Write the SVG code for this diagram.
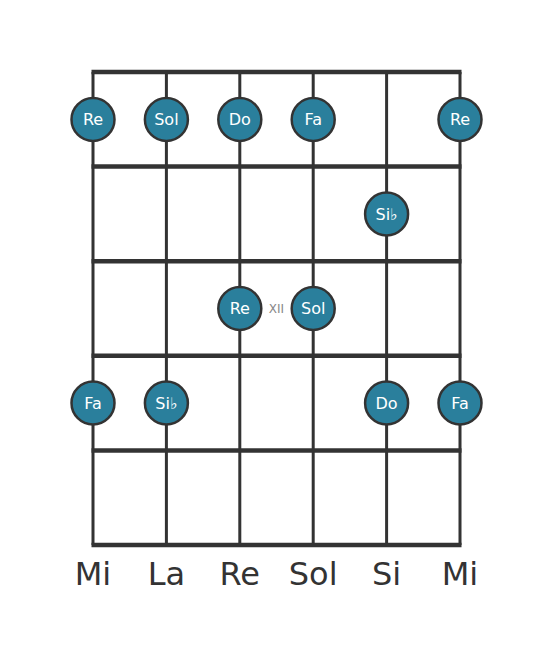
<svg xmlns="http://www.w3.org/2000/svg" width="553" height="656" viewBox="0 0 553 656">
<style>
.fret{stroke:#333;stroke-width:4.5}
.str{stroke:#333;stroke-width:3}
.dot circle{fill:#2a7f9c;stroke:#333;stroke-width:2.5}
.dot text{fill:#fff;font-family:"DejaVu Sans",sans-serif;font-size:16px;text-anchor:middle;dominant-baseline:central}
.lbl{fill:#333;font-family:"DejaVu Sans",sans-serif;font-size:32px;text-anchor:middle}
.pos{fill:#888;font-family:"DejaVu Sans",sans-serif;font-size:12px;text-anchor:middle;dominant-baseline:central}
</style>
<rect width="553" height="656" fill="#fff"/>
<g id="connectors">
<line class="str" x1="93" y1="72" x2="93" y2="545"/>
<line class="str" x1="166.4" y1="72" x2="166.4" y2="545"/>
<line class="str" x1="239.8" y1="72" x2="239.8" y2="545"/>
<line class="str" x1="313.2" y1="72" x2="313.2" y2="545"/>
<line class="str" x1="386.6" y1="72" x2="386.6" y2="545"/>
<line class="str" x1="460" y1="72" x2="460" y2="545"/>
<line class="fret" x1="91.5" y1="72" x2="461.5" y2="72"/>
<line class="fret" x1="91.5" y1="166.6" x2="461.5" y2="166.6"/>
<line class="fret" x1="91.5" y1="261.2" x2="461.5" y2="261.2"/>
<line class="fret" x1="91.5" y1="355.8" x2="461.5" y2="355.8"/>
<line class="fret" x1="91.5" y1="450.4" x2="461.5" y2="450.4"/>
<line class="fret" x1="91.5" y1="545" x2="461.5" y2="545"/>
</g>
<g id="n1" class="dot"><circle cx="93" cy="119.5" r="21.5"/><text x="93" y="119.5">Re</text></g>
<g id="n2" class="dot"><circle cx="166.4" cy="119.5" r="21.5"/><text x="166.4" y="119.5">Sol</text></g>
<g id="n3" class="dot"><circle cx="239.8" cy="119.5" r="21.5"/><text x="239.8" y="119.5">Do</text></g>
<g id="n4" class="dot"><circle cx="313.2" cy="119.5" r="21.5"/><text x="313.2" y="119.5">Fa</text></g>
<g id="n5" class="dot"><circle cx="460" cy="119.5" r="21.5"/><text x="460" y="119.5">Re</text></g>
<g id="n6" class="dot"><circle cx="386.6" cy="214" r="21.5"/><text x="386.6" y="214">Si♭</text></g>
<g id="n7" class="dot"><circle cx="239.8" cy="308.5" r="21.5"/><text x="239.8" y="308.5">Re</text></g>
<g id="n8" class="dot"><circle cx="313.2" cy="308.5" r="21.5"/><text x="313.2" y="308.5">Sol</text></g>
<g id="n9" class="dot"><circle cx="93" cy="403" r="21.5"/><text x="93" y="403">Fa</text></g>
<g id="n10" class="dot"><circle cx="166.4" cy="403" r="21.5"/><text x="166.4" y="403">Si♭</text></g>
<g id="n11" class="dot"><circle cx="386.6" cy="403" r="21.5"/><text x="386.6" y="403">Do</text></g>
<g id="n12" class="dot"><circle cx="460" cy="403" r="21.5"/><text x="460" y="403">Fa</text></g>
<text class="pos" x="276.5" y="309">XII</text>
<g id="labels">
<text class="lbl" x="93" y="585">Mi</text>
<text class="lbl" x="166.4" y="585">La</text>
<text class="lbl" x="239.8" y="585">Re</text>
<text class="lbl" x="313.2" y="585">Sol</text>
<text class="lbl" x="386.6" y="585">Si</text>
<text class="lbl" x="460" y="585">Mi</text>
</g>
</svg>
